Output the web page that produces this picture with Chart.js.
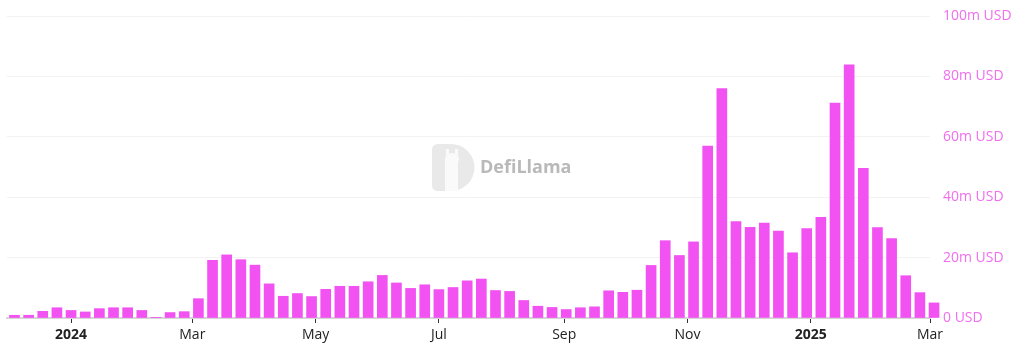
<!DOCTYPE html>
<html>
<head>
<meta charset="utf-8">
<script src="https://cdn.jsdelivr.net/npm/chart.js@4.4.1/dist/chart.umd.min.js"></script>
<style>
  html, body { margin: 0; padding: 0; background: #fff; }
  #wrap { width: 1024px; height: 355px; position: relative; }
</style>
</head>
<body>
<div id="wrap"><canvas id="feesChart"></canvas></div>
<script>
// weekly buckets (monday of each week)
const weeks = [
  "2023-12-04", "2023-12-11", "2023-12-18", "2023-12-25",
  "2024-01-01", "2024-01-08", "2024-01-15", "2024-01-22", "2024-01-29",
  "2024-02-05", "2024-02-12", "2024-02-19", "2024-02-26",
  "2024-03-04", "2024-03-11", "2024-03-18", "2024-03-25",
  "2024-04-01", "2024-04-08", "2024-04-15", "2024-04-22", "2024-04-29",
  "2024-05-06", "2024-05-13", "2024-05-20", "2024-05-27",
  "2024-06-03", "2024-06-10", "2024-06-17", "2024-06-24",
  "2024-07-01", "2024-07-08", "2024-07-15", "2024-07-22", "2024-07-29",
  "2024-08-05", "2024-08-12", "2024-08-19", "2024-08-26",
  "2024-09-02", "2024-09-09", "2024-09-16", "2024-09-23", "2024-09-30",
  "2024-10-07", "2024-10-14", "2024-10-21", "2024-10-28",
  "2024-11-04", "2024-11-11", "2024-11-18", "2024-11-25",
  "2024-12-02", "2024-12-09", "2024-12-16", "2024-12-23", "2024-12-30",
  "2025-01-06", "2025-01-13", "2025-01-20", "2025-01-27",
  "2025-02-03", "2025-02-10", "2025-02-17", "2025-02-24",
  "2025-03-03"
];

// weekly value, millions of USD
const volumes = [
  0.9, 0.9, 2.2, 3.4,
  2.5, 2.0, 3.1, 3.4, 3.4,
  2.5, 0.1, 1.8, 2.1,
  6.4, 19.1, 20.9, 19.3,
  17.5, 11.3, 7.2, 8.1, 7.1,
  9.5, 10.5, 10.5, 12.0,
  14.1, 11.6, 9.8, 11.0,
  9.4, 10.1, 12.3, 12.9, 9.1,
  8.8, 5.8, 3.9, 3.5,
  2.8, 3.4, 3.7, 9.0, 8.5,
  9.2, 17.4, 25.6, 20.7,
  25.2, 56.9, 76.0, 31.9,
  30.0, 31.4, 28.8, 21.6, 29.6,
  33.3, 71.2, 83.8, 49.6,
  29.9, 26.3, 14.0, 8.4,
  5.0
];

const tickDates = ["2024-01-01", "2024-03-01", "2024-05-01", "2024-07-01", "2024-09-01", "2024-11-01", "2025-01-01", "2025-03-01"];
const tickLabels = ["2024", "Mar", "May", "Jul", "Sep", "Nov", "2025", "Mar"];
const yTicks = [0, 20, 40, 60, 80, 100];

const DAY = 86400000;
const origin = Date.parse("2024-01-01");
const toDay = d => (Date.parse(d) - origin) / DAY;

const tickDays = tickDates.map(toDay);
const points = weeks.map((w, i) => ({ x: toDay(w), y: volumes[i] }));

const fontFam = "'Open Sans', 'Noto Sans', sans-serif";
const barColor = "#f152f1";
const labelPink = "#f06ef0";

// DefiLlama watermark behind the bars
const watermark = {
  id: "watermark",
  beforeDatasetsDraw(chart) {
    const ctx = chart.ctx;
    ctx.save();
    // the "D" badge
    const x0 = 432, y0 = 144, h = 47, r = 6;
    ctx.fillStyle = "#e9e9e9";
    ctx.beginPath();
    ctx.moveTo(x0 + r, y0);
    ctx.lineTo(x0 + 19, y0);
    ctx.arc(x0 + 19, y0 + h / 2, h / 2, -Math.PI / 2, Math.PI / 2);
    ctx.lineTo(x0 + r, y0 + h);
    ctx.quadraticCurveTo(x0, y0 + h, x0, y0 + h - r);
    ctx.lineTo(x0, y0 + r);
    ctx.quadraticCurveTo(x0, y0, x0 + r, y0);
    ctx.fill();
    // small llama shape
    ctx.fillStyle = "#fafafa";
    ctx.beginPath();
    ctx.ellipse(452, 159, 7, 6, 0, 0, Math.PI * 2);
    ctx.fill();
    ctx.fillRect(445, 160, 13, 31);
    ctx.fillRect(446, 149, 3, 6);
    ctx.fillRect(455, 149, 3, 6);
    // word mark
    ctx.fillStyle = "#b9b9b9";
    ctx.font = "bold 18px " + fontFam;
    ctx.textBaseline = "middle";
    ctx.fillText("DefiLlama", 480, 168);
    ctx.restore();
  }
};

new Chart(document.getElementById("feesChart"), {
  type: "bar",
  data: {
    datasets: [{
      data: points,
      backgroundColor: barColor,
      borderWidth: 0,
      barThickness: 10,
      clip: false
    }]
  },
  options: {
    responsive: true,
    maintainAspectRatio: false,
    animation: false,
    layout: { padding: { left: 7, top: 16, right: 0, bottom: 0 } },
    plugins: {
      legend: { display: false },
      tooltip: { enabled: false }
    },
    scales: {
      x: {
        type: "linear",
        offset: false,
        min: -31.7,
        max: 425,
        afterBuildTicks: scale => {
          scale.ticks = tickDays.map(v => ({ value: v }));
        },
        afterFit: scale => { scale.height = 37; },
        grid: {
          offset: false,
          drawOnChartArea: false,
          drawTicks: true,
          tickLength: 5,
          tickColor: "#333"
        },
        border: { display: true, color: "#d6d6d6", width: 2 },
        ticks: {
          autoSkip: false,
          maxRotation: 0,
          padding: 4,
          color: "#222",
          font: ctx => {
            const lbl = tickLabels[ctx.index];
            const bold = lbl === "2024" || lbl === "2025";
            return { family: fontFam, size: 14, weight: bold ? "bold" : "normal" };
          },
          callback: (v, i) => tickLabels[i]
        }
      },
      y: {
        position: "right",
        min: 0,
        max: 100,
        afterBuildTicks: scale => {
          scale.ticks = yTicks.map(v => ({ value: v }));
        },
        afterFit: scale => {
          scale.width = 94;
          scale.paddingTop = 0;
          scale.paddingBottom = 0;
        },
        grid: { color: "#f2f2f2", drawTicks: false },
        border: { display: false },
        ticks: {
          padding: 13,
          color: labelPink,
          font: { family: fontFam, size: 14 },
          callback: v => v === 0 ? "0 USD" : v + "m USD"
        }
      }
    }
  },
  plugins: [watermark]
});
</script>
</body>
</html>
